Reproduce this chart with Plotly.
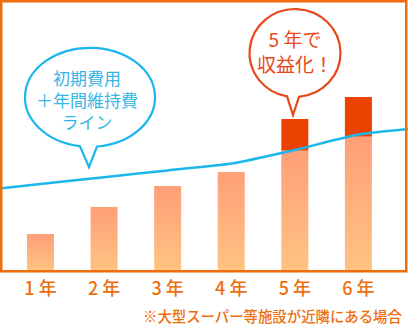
import math
import plotly.graph_objects as go

# ---- data ----
years = [1, 2, 3, 4, 5, 6]
year_labels = ["1 年", "2 年", "3 年", "4 年", "5 年", "6 年"]
bar_base_values = [36, 63, 84, 98, 119.3, 133.3]   # light part (cost-covered)
profit_values = [0, 0, 0, 0, 31.7, 39.7]            # dark part (profit)
line_x = [0.39, 1, 2, 3, 4, 5, 6, 6.80]
line_y = [81.7, 85.9, 92.8, 99.6, 106.4, 120.0, 135.5, 141.2]

W, H = 408, 325
PLOT_H = 271
ORANGE = "#ee6d0d"
BLUE = "#1db6ec"
RED = "#e9481b"
FONT = "Noto Sans CJK JP"

def px(x):
    return x / W

def py(y):
    return 1 - y / PLOT_H

fig = go.Figure()

bw = 0.2125
for yr, v in zip(years, bar_base_values):
    fig.add_trace(go.Scatter(
        x=[yr - bw, yr - bw, yr + bw, yr + bw, yr - bw],
        y=[0, v, v, 0, 0],
        mode="lines", fill="toself",
        line=dict(width=0, color="rgba(0,0,0,0)"),
        fillgradient=dict(type="vertical",
                          colorscale=[[0, "#ffc383"], [1, "#ff9f78"]]),
        hoverinfo="skip", showlegend=False,
    ))

fig.add_trace(go.Bar(
    x=years, y=profit_values, base=bar_base_values, width=bw * 2,
    marker=dict(color="#ec4200", line=dict(width=0)),
    showlegend=False, hoverinfo="skip",
))

fig.add_trace(go.Scatter(
    x=line_x, y=line_y, mode="lines",
    line=dict(color=BLUE, width=2.5, shape="spline", smoothing=0.6),
    showlegend=False, hoverinfo="skip",
))

def ellipse_arc(cx, cy, rx, ry, t0, t1):
    segs = []
    n = max(1, int(math.ceil(abs(t1 - t0) / (math.pi / 2))))
    dt = (t1 - t0) / n
    k = 4 / 3 * math.tan(dt / 4)
    t = t0
    for _ in range(n):
        a, b = t, t + dt
        p0 = (cx + rx * math.cos(a), cy + ry * math.sin(a))
        p3 = (cx + rx * math.cos(b), cy + ry * math.sin(b))
        c1 = (p0[0] - k * rx * math.sin(a), p0[1] + k * ry * math.cos(a))
        c2 = (p3[0] + k * rx * math.sin(b), p3[1] - k * ry * math.cos(b))
        segs.append((c1, c2, p3))
        t = b
    return segs

def bubble_path(cx, cy, rx, ry, xl, xr, tip):
    tl = math.acos((xl - cx) / rx)
    tr = math.acos((xr - cx) / rx)
    t0 = tl
    t1 = tr + 2 * math.pi
    start = (cx + rx * math.cos(t0), cy + ry * math.sin(t0))
    d = f"M {px(start[0])},{py(start[1])}"
    for c1, c2, p3 in ellipse_arc(cx, cy, rx, ry, t0, t1):
        d += (f" C {px(c1[0])},{py(c1[1])} {px(c2[0])},{py(c2[1])}"
              f" {px(p3[0])},{py(p3[1])}")
    d += f" L {px(tip[0])},{py(tip[1])} Z"
    return d

shapes = [
    dict(type="path", xref="paper", yref="paper",
         path=bubble_path(90, 97.3, 65, 49.5, 80, 97, (89, 167)),
         line=dict(color=BLUE, width=2.2), fillcolor="rgba(255,255,255,0)"),
    dict(type="path", xref="paper", yref="paper",
         path=bubble_path(295, 53, 45.5, 44, 287, 299, (293, 115)),
         line=dict(color=RED, width=2.2), fillcolor="rgba(255,255,255,0)"),
    dict(type="rect", xref="paper", yref="paper",
         x0=px(1.25), x1=px(406.25), y0=py(271.25), y1=py(1.25),
         line=dict(color=ORANGE, width=2.5)),
]

ann = []
def txt(s, x, y, size, color, xanchor="center", weight=400):
    ann.append(dict(text=s, x=px(x), y=py(y), xref="paper", yref="paper",
                    showarrow=False, xanchor=xanchor, yanchor="middle",
                    align="center", valign="middle",
                    font=dict(family=FONT, size=size, color=color,
                              weight=weight)))

txt("初期費用<br>＋年間維持費<br>ライン", 87, 99.5, 17, "#35b7e6")
txt("5 年で<br>収益化！", 295, 51.5, 19, RED)
txt("※大型スーパー等施設が近隣にある場合", 404, 315.5, 14.4, ORANGE,
    xanchor="right", weight=500)

fig.update_layout(
    width=W, height=H,
    margin=dict(l=0, r=0, t=0, b=H - PLOT_H, pad=0),
    paper_bgcolor="white", plot_bgcolor="white",
    barmode="overlay",
    shapes=shapes, annotations=ann,
    xaxis=dict(range=[1 - 40.5 / 63.58, 1 + (408 - 40.5) / 63.58],
               tickvals=years, ticktext=year_labels,
               tickfont=dict(family=FONT, size=18, color=ORANGE, weight=500),
               ticklabelstandoff=5,
               showgrid=False, zeroline=False, showline=False, ticks="",
               fixedrange=True),
    yaxis=dict(range=[-1, 270], visible=False, showgrid=False,
               zeroline=False, fixedrange=True),
)

fig.write_html("out.html")
